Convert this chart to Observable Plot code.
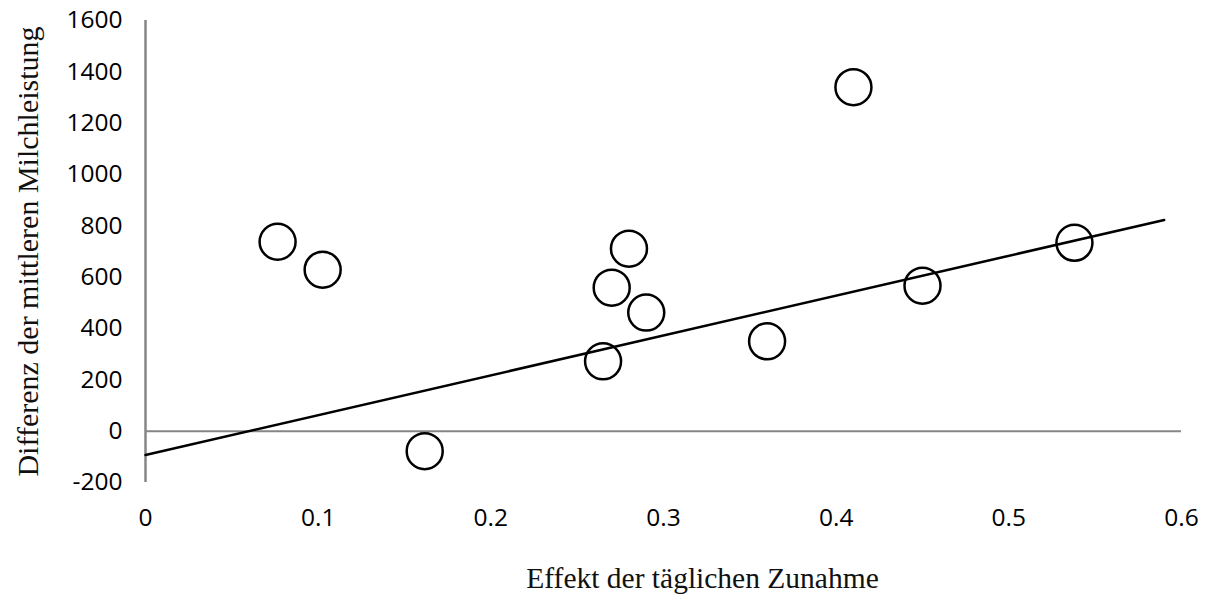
<!DOCTYPE html>
<html>
<head>
<meta charset="utf-8">
<script src="https://cdn.jsdelivr.net/npm/d3@7"></script>
<script src="https://cdn.jsdelivr.net/npm/@observablehq/plot@0.6"></script>
<style>
  html, body { margin: 0; padding: 0; background: #fff; }
</style>
</head>
<body>
<div id="chart"></div>
<script>
// Effekt der täglichen Zunahme (x) vs. Differenz der mittleren Milchleistung (y)
const effekt    = [0.0765, 0.1026, 0.1617, 0.265, 0.270, 0.280, 0.290, 0.360, 0.410, 0.450, 0.538];
const differenz = [738, 629, -78, 272, 559, 711, 462, 350, 1340, 567, 734];

// Linear trend line endpoints
const trendX = [0, 0.59];
const trendY = [-93, 823];

// Axis ticks and titles
const xTicks = [0, 0.1, 0.2, 0.3, 0.4, 0.5, 0.6];
const yTicks = [-200, 0, 200, 400, 600, 800, 1000, 1200, 1400, 1600];
const xTitle = "Effekt der täglichen Zunahme";
const yTitle = "Differenz der mittleren Milchleistung";

const points = effekt.map((x, i) => ({x, y: differenz[i]}));
const trend = trendX.map((x, i) => ({x, y: trendY[i]}));

const serif = "'Liberation Serif', 'Times New Roman', serif";

const chart = Plot.plot({
  width: 1207,
  height: 596,
  marginLeft: 145,
  marginRight: 26,
  marginTop: 20,
  marginBottom: 114,
  style: {fontFamily: "'Open Sans', sans-serif", fontSize: "24.5px", color: "#000", background: "#fff"},
  x: {domain: [0, 0.6], ticks: xTicks, tickSize: 0, tickPadding: 26, tickFormat: d => String(d), label: null},
  y: {domain: [-200, 1600], ticks: yTicks, tickSize: 0, tickPadding: 23, tickFormat: d => String(d), label: null},
  marks: [
    Plot.ruleX([0], {stroke: "#868686", strokeWidth: 2.5}),
    Plot.ruleY([0], {stroke: "#868686", strokeWidth: 2}),
    Plot.line(trend, {x: "x", y: "y", stroke: "#000", strokeWidth: 2.5}),
    Plot.dot(points, {x: "x", y: "y", r: 18, stroke: "#000", strokeWidth: 2.5, fill: "none"}),
    Plot.text([yTitle], {frameAnchor: "left", textAnchor: "middle", lineAnchor: "middle", dx: -117, rotate: -90, fontFamily: serif, fontSize: 30, fill: "#111"}),
    Plot.text([xTitle], {frameAnchor: "bottom", textAnchor: "middle", lineAnchor: "middle", dx: 39, dy: 96, fontFamily: serif, fontSize: 29.5, fill: "#111"})
  ]
});

document.getElementById("chart").appendChild(chart);
</script>
</body>
</html>
